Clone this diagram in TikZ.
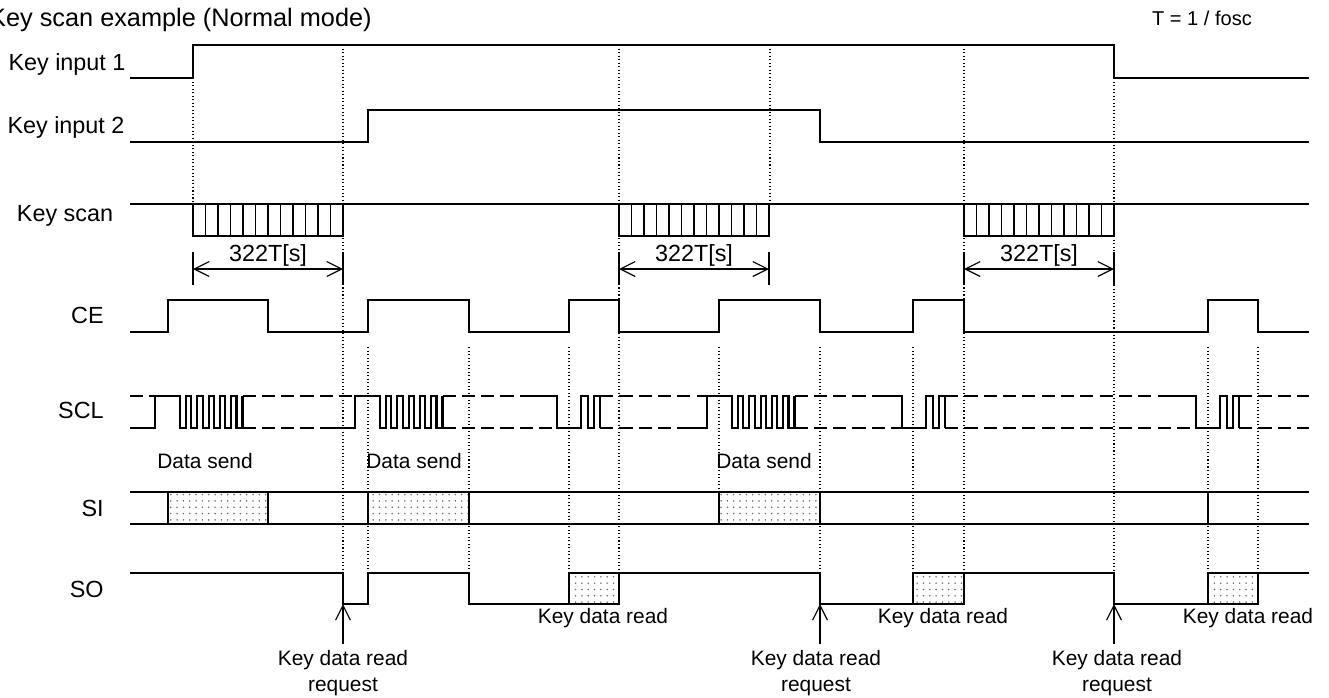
\documentclass[tikz,border=0pt]{standalone}
\usepackage{fontspec}
\setmainfont{Liberation Sans}
\usepackage{tikz}
\usetikzlibrary{arrows.meta,patterns.meta}

% SCL burst while data is sent (#1 = rising edge)
\newcommand{\sclsend}[1]{%
  \draw[wave] ({#1-22},428) -- (#1,428) -- (#1,396) -- ({#1+25},396)
    \foreach \k in {1,...,5} { -- ++(0,32) -- ++(6,0) -- ++(0,-32) -- ++(5.3,0) }
    -- ++(0,32) -- ++(6,0) -- ++(0,-32);
}
% short SCL burst for a key data read (#1 = falling edge)
\newcommand{\sclread}[1]{%
  \draw[wave] ({#1-25},396) -- (#1,396) -- (#1,428) -- ++(24,0) -- ++(0,-32)
    -- ++(7,0) -- ++(0,32) -- ++(6,0) -- ++(0,-32) -- ++(6,0) -- ++(0,32);
}

\begin{document}
\begin{tikzpicture}[
  x=0.02cm, y=-0.02cm,
  >={Straight Barb[length=8.5pt,width=8.5pt]},
  wave/.style={line width=1.15pt},
  idle/.style={line width=1.15pt, dash pattern=on 7.5pt off 3.5pt},
  guide/.style={line width=0.6pt, dash pattern=on 0.6pt off 1.4pt},
  dim/.style={line width=0.65pt},
  scanbox/.style={line width=0.9pt},
  sent/.style={line width=1.15pt, pattern={Dots[distance=3.6pt,radius=0.5pt]}, pattern color=gray!85!black},
  signame/.style={font=\fontsize{13.3}{16}\selectfont, inner sep=0pt},
  note/.style={font=\fontsize{11.9}{15.1}\selectfont, inner sep=0pt}
]
\useasboundingbox (0,0) rectangle (1329,697);

\node[font=\fontsize{14.4}{17}\selectfont, inner sep=0pt, anchor=base east] (title) at (372,26) {Key scan example (Normal mode)};
\node[font=\fontsize{11.4}{13}\selectfont, inner sep=0pt, anchor=base] (tdef) at (1202,25) {T = 1 / fosc};

% signal names
\node[signame, anchor=base] (nKey1) at (67,70) {Key input 1};
\node[signame, anchor=base] (nKey2) at (66,133) {Key input 2};
\node[signame, anchor=base] (nScan) at (65,221) {Key scan};
\node[signame, anchor=base east] (nCE) at (104,323) {CE};
\node[signame, anchor=base east] (nSCL) at (104,418) {SCL};
\node[signame, anchor=base east] (nSI) at (104,516) {SI};
\node[signame, anchor=base east] (nSO) at (104,597) {SO};

% timing guides
\foreach \gx/\ga/\gb in {193/78/204, 343/45/573, 368/347/573, 469/347/573, 569/347/573,
    619/45/573, 719/347/492, 770/45/204, 820/347/573, 913/347/573, 964/45/573,
    1114/78/573, 1208/347/573, 1258/347/573}
  \draw[guide] (\gx,\ga) -- (\gx,\gb);

% key inputs
\draw[wave] (130,78) -| (193,45) -| (1114,78) -- (1309,78);
\draw[wave] (130,142) -| (368,110) -| (820,142) -- (1309,142);

% key scan
\draw[scanbox] (130,204) -- (1309,204);
\foreach \bx in {193,619,964} {
  \draw[scanbox] (\bx,204) rectangle ++(150,32);
  \foreach \i in {1,...,11}
    \draw[dim] ({\bx+\i*12.5},204) -- ++(0,32);
}

% 322T[s]
\foreach \bx/\nm in {193/1, 619/2, 964/3} {
  \coordinate (d\nm a) at (\bx,269);
  \coordinate (d\nm b) at ({\bx+150},269);
  \draw[dim] (\bx,252) -- (\bx,285);
  \draw[dim] ({\bx+150},252) -- ({\bx+150},285);
  \draw[dim, <->] (d\nm a) -- (d\nm b)
    node[signame, midway, anchor=base, yshift=0.16cm] (len\nm) {322T[s]};
}

% CE
\draw[wave] (130,332) -| (168,300) -| (268,332) -| (368,300) -| (469,332)
  -| (569,300) -| (619,332) -| (719,300) -| (820,332) -| (913,300) -| (964,332)
  -| (1208,300) -| (1258,332) -- (1309,332);

% SCL
\foreach \ia/\ib in {130/155, 242.5/355, 442.5/557, 600/707, 794.5/902, 945/1196, 1239/1309}
  \draw[idle] (\ia,396) -- (\ib,396) (\ia,428) -- (\ib,428);
\sclsend{155}
\sclsend{355}
\sclsend{707}
\sclread{557}
\sclread{902}
\sclread{1196}

% SI
\draw[wave] (130,492) -- (1309,492) (130,524) -- (1309,524);
\draw[sent] (168,492) rectangle (268,524);
\draw[sent] (368,492) rectangle (469,524);
\draw[sent] (719,492) rectangle (820,524);
\draw[wave] (1208,492) -- (1208,524);
\node[note, anchor=base west] (ds1) at (157,468) {Data send};
\node[note, anchor=base west] (ds2) at (366,468) {Data send};
\node[note, anchor=base west] (ds3) at (716,468) {Data send};

% SO
\draw[wave] (130,573) -| (343,604) -| (368,573) -| (469,604) -| (569,573)
  -| (820,604) -| (913,573) -| (1114,604) -| (1208,573) -- (1309,573);
\draw[sent] (569,573) rectangle (619,604);
\draw[sent] (913,573) rectangle (964,604);
\draw[sent] (1208,573) rectangle (1258,604);
\node[note, anchor=base] (rd1) at (603,623) {Key data read};
\node[note, anchor=base] (rd2) at (943,623) {Key data read};
\node[note, anchor=base] (rd3) at (1248,623) {Key data read};

% read requests
\coordinate (rq1) at (343,604);
\coordinate (rq2) at (820,604);
\coordinate (rq3) at (1114,604);
\node[note, anchor=north, align=center, outer sep=3.5pt] (req1) at (343,644) {Key data read\\request};
\node[note, anchor=north, align=center, outer sep=3.5pt] (req2) at (816,644) {Key data read\\request};
\node[note, anchor=north, align=center, outer sep=3.5pt] (req3) at (1117,644) {Key data read\\request};
\draw[dim, ->] (req1) -- (rq1);
\draw[dim, ->] (req2.north -| rq2) -- (rq2);
\draw[dim, ->] (req3.north -| rq3) -- (rq3);

\end{tikzpicture}
\end{document}
